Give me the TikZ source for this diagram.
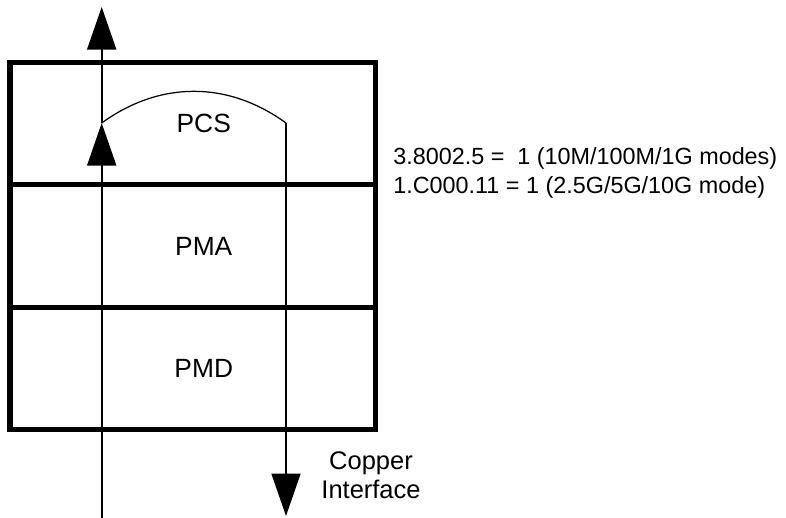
\documentclass[tikz,border=0pt]{standalone}
\usepackage{fontspec}
\setmainfont{Liberation Sans}
\usepackage{tikz}
\usetikzlibrary{arrows.meta,positioning,calc}
\tikzstyle{layer} = [rectangle, draw=black, line width=3pt, minimum width=7.31cm,
    minimum height=2.446cm, outer sep=0pt]
\tikzstyle{layertext} = [font=\fontsize{15}{18}\selectfont, xshift=0.22cm]
\tikzstyle{path} = [draw=black, line width=1pt]
\tikzstyle{arrow} = [-{Triangle[length=0.85cm, width=0.58cm]}, path]
\tikzstyle{note} = [font=\fontsize{13.3}{16}\selectfont, inner sep=0pt]

\begin{document}
\begin{tikzpicture}
\useasboundingbox (0,0) rectangle (15.72,-10.36);

\node[layer, label={[layertext]center:PCS}] (pcs) at (3.855,-2.474) {};
\node[layer, below=0cm of pcs, label={[layertext]center:PMA}] (pma) {};
\node[layer, below=0cm of pma, label={[layertext]center:PMD}] (pmd) {};

\coordinate (rxin) at (2.034,-10.36);
\coordinate (rxturn) at (2.034,-2.46);
\coordinate (rxout) at (2.034,-0.14);
\coordinate (txturn) at (5.72,-2.46);
\coordinate (txout) at (5.72,-10.32);

\draw[arrow] (rxin) -- (rxturn);
\draw[arrow] (rxturn) -- (rxout);
\draw[draw=black, line width=0.7pt] (rxturn) to[bend left=36] (txturn);
\draw[arrow] (txturn) -- (txout);

\node[note, align=left, anchor=west] (regs) at (7.86,-3.46)
    {3.8002.5 =\ \ 1 (10M/100M/1G modes)\\1.C000.11 = 1 (2.5G/5G/10G mode)};
\node[note, align=center, font=\fontsize{14.5}{16.8}\selectfont] (copper) at (7.42,-9.5) {Copper\\Interface};

\end{tikzpicture}
\end{document}
